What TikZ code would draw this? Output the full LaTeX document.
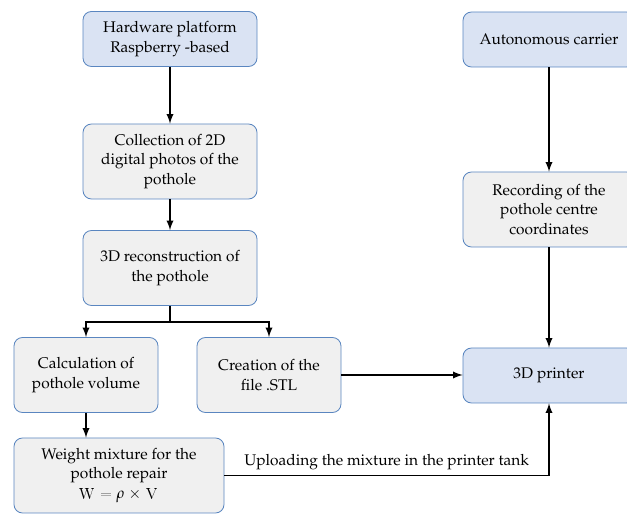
\documentclass[tikz,border=0pt]{standalone}
\usepackage[T1]{fontenc}
\usepackage{mathpazo}
\usetikzlibrary{arrows}
\definecolor{boxblue}{HTML}{DAE3F3}
\definecolor{boxgrey}{HTML}{F0F0F0}
\definecolor{edgeblue}{HTML}{5A86C0}
\tikzset{
  box/.style={draw=edgeblue, rounded corners=6pt, align=center, line width=0.6pt,
    font=\fontsize{11}{13.7}\selectfont},
  bluebox/.style={box, fill=boxblue},
  greybox/.style={box, fill=boxgrey},
  flow/.style={-latex, line width=1.3pt}
}
\begin{document}
\begin{tikzpicture}
    \useasboundingbox (0,0) rectangle (15.675,12.85);

    % left column
    \node[bluebox, minimum width=4.35cm, minimum height=1.375cm] (hw) at (4.25,11.875) {Hardware platform\\Raspberry -based};
    \node[greybox, minimum width=4.35cm, minimum height=1.875cm] (photos) at (4.25,8.8125) {Collection of 2D\\digital photos of the\\pothole};
    \node[greybox, minimum width=4.35cm, minimum height=1.875cm] (recon) at (4.25,6.15) {3D reconstruction of\\the pothole};
    \node[greybox, minimum width=3.6cm, minimum height=1.875cm] (volume) at (2.15,3.475) {Calculation of\\pothole volume};
    \node[greybox, minimum width=3.6cm, minimum height=1.875cm] (stl) at (6.725,3.475) {Creation of the\\file .STL};
    \node[greybox, minimum width=5.25cm, minimum height=1.875cm] (weight) at (2.975,0.9625) {Weight mixture for the\\pothole repair\\\textsf{W =} $\rho$ \textsf{$\times$ V}};

    % right column
    \node[bluebox, minimum width=4.3cm, minimum height=1.375cm] (carrier) at (13.725,11.8625) {Autonomous carrier};
    \node[greybox, minimum width=4.3cm, minimum height=1.875cm] (record) at (13.725,7.6125) {Recording of the\\pothole centre\\coordinates};
    \node[bluebox, minimum width=4.3cm, minimum height=1.375cm] (printer) at (13.725,3.4625) {3D printer};

    \draw[flow] (hw) -- (photos);
    \draw[flow] (photos) -- (recon);
    \draw[flow] (recon.south) -- ++(0,-0.4) -| (volume.north);
    \draw[flow] (recon.south) -- ++(0,-0.4) -| (stl.north);
    \draw[flow] (volume.south) -- (volume.south |- weight.north);
    \draw[flow] (stl.east) -- (stl.east -| printer.west);
    \draw[flow] (carrier) -- (record);
    \draw[flow] (record) -- (printer);
    \draw[flow] (weight.east) -| node[above, pos=0.25, font=\fontsize{11}{13.7}\selectfont] {Uploading the mixture in the printer tank} (printer.south);
  \end{tikzpicture}
\end{document}
